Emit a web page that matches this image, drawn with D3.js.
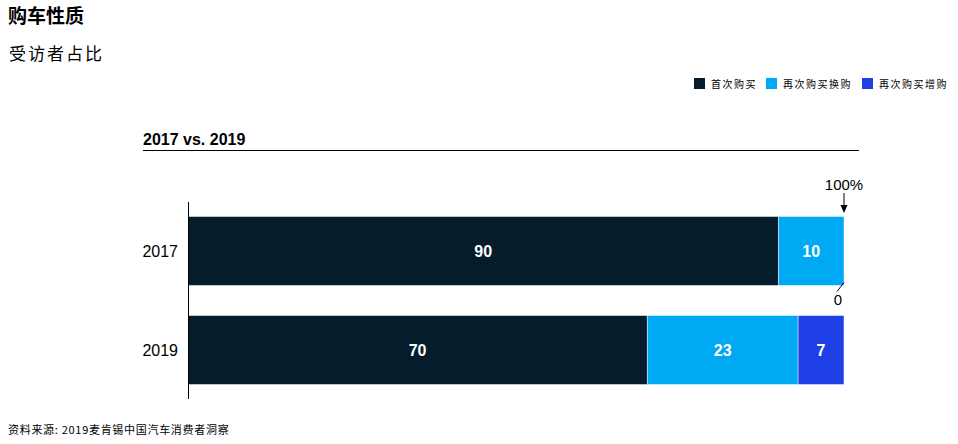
<!DOCTYPE html>
<html><head><meta charset="utf-8">
<script src="https://cdn.jsdelivr.net/npm/d3@7"></script>
<style>body{margin:0;background:#fff;} svg{display:block;}</style>
</head><body>
<script>
const categories = ["2017", "2019"];
const seriesNames = ["首次购买", "再次购买换购", "再次购买增购"];
const firstPurchase = [90, 70];
const replacement = [10, 23];
const additional = [0, 7];
const colors = ["#051c2c", "#00a9f4", "#1f40e6"];

const W = 958, H = 444;
const svg = d3.select("body").append("svg").attr("width", W).attr("height", H);
const cjk = "'Noto Sans CJK SC', sans-serif";
const sans = "'Liberation Sans', Arial, sans-serif";

svg.append("text").attr("x", 8).attr("y", 23).text("购车性质")
  .style("font-family", cjk).style("font-size", "19px").style("font-weight", "bold").attr("fill", "#000");
svg.append("text").attr("x", 9).attr("y", 60).text("受访者占比")
  .style("font-family", cjk).style("font-size", "17px").style("letter-spacing", "2px").attr("fill", "#000");

// legend
const legX = [694, 766, 862];
seriesNames.forEach((n, i) => {
  svg.append("rect").attr("x", legX[i]).attr("y", 78).attr("width", 11).attr("height", 11).attr("fill", colors[i]);
  svg.append("text").attr("x", legX[i] + 17).attr("y", 88).text(n)
    .style("font-family", cjk).style("font-size", "10px").attr("fill", "#000").style("letter-spacing", "1.5px");
});

svg.append("text").attr("x", 143).attr("y", 145).text("2017 vs. 2019")
  .style("font-family", sans).style("font-size", "16px").style("font-weight", "bold").attr("fill", "#000");
svg.append("line").attr("x1", 143).attr("x2", 859).attr("y1", 150.5).attr("y2", 150.5).attr("stroke", "#000").attr("stroke-width", 1);

const x = d3.scaleLinear().domain([0, 100]).range([188, 844]);
const y = d3.scaleBand().domain(categories).range([202, 399]).paddingInner(0.303).paddingOuter(0.146);

const rows = categories.map((c, i) => ({cat: c, vals: [firstPurchase[i], replacement[i], additional[i]]}));
rows.forEach(r => {
  let acc = 0;
  r.vals.forEach((v, j) => {
    const x0 = x(acc), x1 = x(acc + v);
    if (v > 0) {
      svg.append("rect").attr("x", x0).attr("y", y(r.cat)).attr("width", x1 - x0).attr("height", y.bandwidth())
        .attr("fill", colors[j]).attr("stroke", "#fff").attr("stroke-width", 0.5);
      svg.append("text").attr("x", (x0 + x1) / 2).attr("y", y(r.cat) + y.bandwidth() / 2 + 6)
        .attr("text-anchor", "middle").text(v)
        .style("font-family", sans).style("font-size", "16px").style("font-weight", "bold").attr("fill", "#fff");
    }
    acc += v;
  });
  svg.append("text").attr("x", 178).attr("y", y(r.cat) + y.bandwidth() / 2 + 6).attr("text-anchor", "end")
    .text(r.cat).style("font-family", sans).style("font-size", "16px").attr("fill", "#000");
});

svg.append("line").attr("x1", 188.5).attr("x2", 188.5).attr("y1", 202).attr("y2", 399).attr("stroke", "#000");

// annotations
const xe = x(100);
svg.append("text").attr("x", xe).attr("y", 190).attr("text-anchor", "middle").text("100%")
  .style("font-family", sans).style("font-size", "15px").attr("fill", "#000");
svg.append("line").attr("x1", xe).attr("x2", xe).attr("y1", 193).attr("y2", 207).attr("stroke", "#000");
svg.append("path").attr("d", `M${xe - 3.5},205 L${xe + 3.5},205 L${xe},213 Z`).attr("fill", "#000");
const r0 = rows[0];
const yb = y(r0.cat) + y.bandwidth();
svg.append("line").attr("x1", xe).attr("y1", yb - 3).attr("x2", xe - 7).attr("y2", yb + 6).attr("stroke", "#000");
svg.append("text").attr("x", xe - 6).attr("y", yb + 20).attr("text-anchor", "middle").text("0")
  .style("font-family", sans).style("font-size", "15px").attr("fill", "#000");

svg.append("text").attr("x", 8).attr("y", 434).text("资料来源: 2019麦肯锡中国汽车消费者洞察")
  .style("font-family", cjk).style("font-size", "11px").style("letter-spacing", "0.7px").attr("fill", "#000");
</script>
</body></html>
